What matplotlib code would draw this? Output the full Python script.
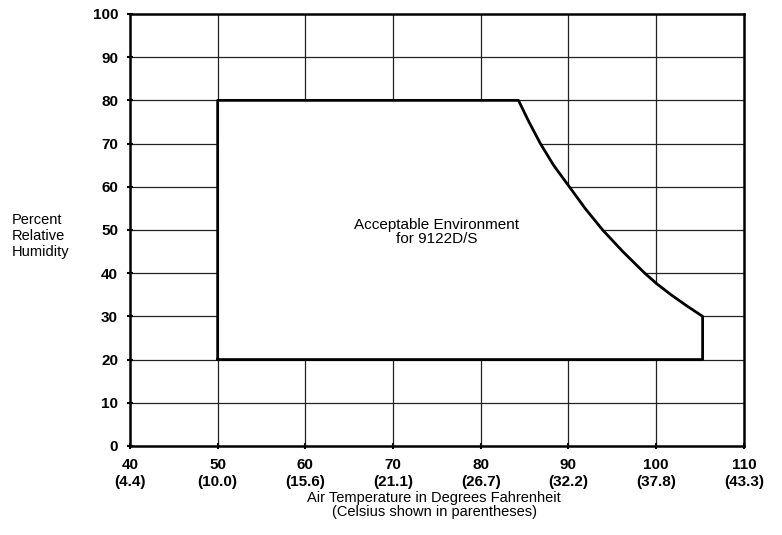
import matplotlib
matplotlib.use("Agg")
import matplotlib.pyplot as plt

plt.rcParams['font.family'] = ['Liberation Sans', 'DejaVu Sans']

# Data
x_ticks = [40, 50, 60, 70, 80, 90, 100, 110]
x_tick_labels = ["40\n(4.4)", "50\n(10.0)", "60\n(15.6)", "70\n(21.1)", "80\n(26.7)",
                 "90\n(32.2)", "100\n(37.8)", "110\n(43.3)"]
y_ticks = [0, 10, 20, 30, 40, 50, 60, 70, 80, 90, 100]

# Acceptable environment boundary
env_left_temp = 50
env_low_rh = 20
env_high_rh = 80
env_right_temp = 105.3
curve_temp = [84.3, 85.5, 86.8, 88.3, 90.1, 91.9, 93.9, 96.2, 98.7, 100.1, 101.7, 103.45, 105.3]
curve_rh = [80, 75, 70, 65, 60, 55, 50, 45, 40, 37.5, 35, 32.5, 30]

fig = plt.figure(figsize=(7.82, 5.35), dpi=100)
ax = fig.add_axes([0.1662, 0.1664, 0.785, 0.8075])
ax.set_xlim(40, 110)
ax.set_ylim(0, 100)

# grid
for xv in x_ticks[1:-1]:
    ax.axvline(xv, color='#222222', lw=0.9, zorder=1)
for yv in y_ticks[1:-1]:
    ax.axhline(yv, color='#222222', lw=0.9, zorder=1)

# polygon of acceptable environment
px = [env_left_temp, env_left_temp] + curve_temp + [env_right_temp, env_right_temp, env_left_temp]
py = [env_low_rh, env_high_rh] + curve_rh + [curve_rh[-1], env_low_rh, env_low_rh]
ax.fill(px, py, facecolor='white', edgecolor='none', zorder=2)
ax.plot(px, py, color='black', lw=2.0, zorder=3, solid_joinstyle='round')

ax.text(74.95, 49.5, "Acceptable Environment\nfor 9122D/S", ha='center', va='center',
        fontsize=11, linespacing=1.05, zorder=4)

for sp in ax.spines.values():
    sp.set_linewidth(1.8)
    sp.set_color('black')

ax.set_xticks(x_ticks)
ax.set_xticklabels(x_tick_labels, fontsize=11, fontweight='bold', linespacing=1.2)
ax.set_yticks(y_ticks)
ax.set_yticklabels([str(v) for v in y_ticks], fontsize=11, fontweight='bold')
ax.tick_params(axis='both', direction='inout', length=5, width=1.5, color='black')
ax.tick_params(axis='x', pad=6.5)
ax.tick_params(axis='y', pad=6)

fig.text(0.555, 0.083, "Air Temperature in Degrees Fahrenheit\n(Celsius shown in parentheses)",
         ha='center', va='top', fontsize=10.5, linespacing=1.0)
fig.text(0.015, 0.559, "Percent\nRelative\nHumidity", ha='left', va='center', fontsize=10.5,
         linespacing=1.15)

fig.savefig("out.png", dpi=100)
